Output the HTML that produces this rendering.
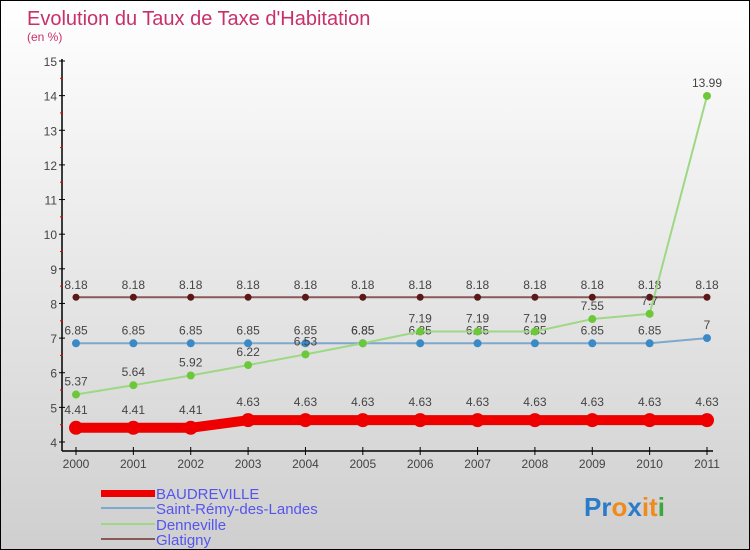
<!DOCTYPE html>
<html><head><meta charset="utf-8"><style>
body{margin:0}
#c{width:750px;height:550px;position:relative;box-sizing:border-box;border:1px solid #000;background:linear-gradient(#fff,#cfcfcf);font-family:"Liberation Sans",sans-serif;overflow:hidden}
text{font-family:"Liberation Sans",sans-serif}
</style></head><body>
<div id="c">
<svg id="s" width="750" height="550">
<text x="26" y="24" font-size="20" fill="#c8306a">Evolution du Taux de Taxe d'Habitation</text>
<text x="26" y="40" font-size="12" fill="#c8306a">(en %)</text>
<g id="axes"></g><g id="series"></g>
<g font-size="15" fill="#5555ee">
<rect x="100" y="489" width="54" height="7" fill="#e00"/>
<text x="155" y="498" fill="#5555ee">BAUDREVILLE</text>
<rect x="100" y="506" width="54" height="2" fill="#7fa8cc"/>
<text x="155" y="513" fill="#5555ee">Saint-Rémy-des-Landes</text>
<rect x="100" y="522" width="54" height="2" fill="#9ed884"/>
<text x="155" y="529" fill="#5555ee">Denneville</text>
<rect x="100" y="537" width="54" height="2" fill="#8a5a5a"/>
<text x="155" y="544" fill="#5555ee">Glatigny</text>
</g>
<g font-size="26" font-weight="bold">
<text x="583" y="515"><tspan fill="#2a7cc8">Pr</tspan><tspan fill="#f08a1c">o</tspan><tspan fill="#2a7cc8">x</tspan><tspan fill="#f08a1c">it</tspan><tspan fill="#3aa83a">i</tspan></text>
</g>
</svg>
</div>
<script>
const years=[2000,2001,2002,2003,2004,2005,2006,2007,2008,2009,2010,2011];
const yTicks=[4,5,6,7,8,9,10,11,12,13,14,15];
const baudreville=[4.41,4.41,4.41,4.63,4.63,4.63,4.63,4.63,4.63,4.63,4.63,4.63];
const saintRemy=[6.85,6.85,6.85,6.85,6.85,6.85,6.85,6.85,6.85,6.85,6.85,7];
const denneville=[5.37,5.64,5.92,6.22,6.53,6.85,7.19,7.19,7.19,7.55,7.7,13.99];
const glatigny=[8.18,8.18,8.18,8.18,8.18,8.18,8.18,8.18,8.18,8.18,8.18,8.18];
const NS="http://www.w3.org/2000/svg";
const x=i=>75+i*(706-75)/(years.length-1);
const y=v=>441-(v-4)*(441-60)/11;
function mk(t,a,p){const e=document.createElementNS(NS,t);for(const k in a)e.setAttribute(k,a[k]);p.appendChild(e);return e;}
const ax=document.getElementById('axes');
let l=mk('line',{x1:61,y1:58,x2:61,y2:450,stroke:'#000','stroke-width':1.5},ax);


l=mk('line',{x1:61,y1:450,x2:712,y2:450,stroke:'#000','stroke-width':1.5},ax);


yTicks.forEach(v=>{
 mk('line',{x1:58,x2:64,y1:y(v),y2:y(v),stroke:'#000'},ax);
 if(v<15)mk('line',{x1:59,x2:62,y1:y(v+0.5),y2:y(v+0.5),stroke:'#e00'},ax);
 const t=mk('text',{x:56,y:y(v)+5,'text-anchor':'end','font-size':12,fill:'#444'},ax);t.textContent=v;
 
 
});
years.forEach((yr,i)=>{
 mk('line',{x1:x(i),x2:x(i),y1:446,y2:454,stroke:'#000'},ax);
 const t=mk('text',{x:x(i),y:467,'text-anchor':'middle','font-size':12,fill:'#444'},ax);t.textContent=yr;
 
 
});
const sg=document.getElementById('series');
function series(name,data,color,w,r,dot,lblDy){
 const g=mk('g',{},sg);
 
 
 const p=mk('polyline',{points:data.map((v,i)=>x(i)+','+y(v)).join(' '),fill:'none',stroke:color,'stroke-width':w,'stroke-linejoin':'round'},g);
 
 
 data.forEach((v,i)=>{
  const c=mk('circle',{cx:x(i),cy:y(v),r:r,fill:dot},g);
  
  
  const t=mk('text',{x:x(i),y:y(v)+lblDy,'text-anchor':'middle','font-size':12,fill:'#444'},g);t.textContent=v;
  
  
 });
}
series('glatigny',glatigny,'#8a5a5a',2,3.5,'#5a1818',-8);
series('saint-remy',saintRemy,'#7fa8cc',2,4,'#3a8ac8',-9);
series('denneville',denneville,'#9ed884',2,4,'#6cc83a',-9);
series('baudreville',baudreville,'#e00',10,7,'#e00',-14);
</script>
</body></html>
